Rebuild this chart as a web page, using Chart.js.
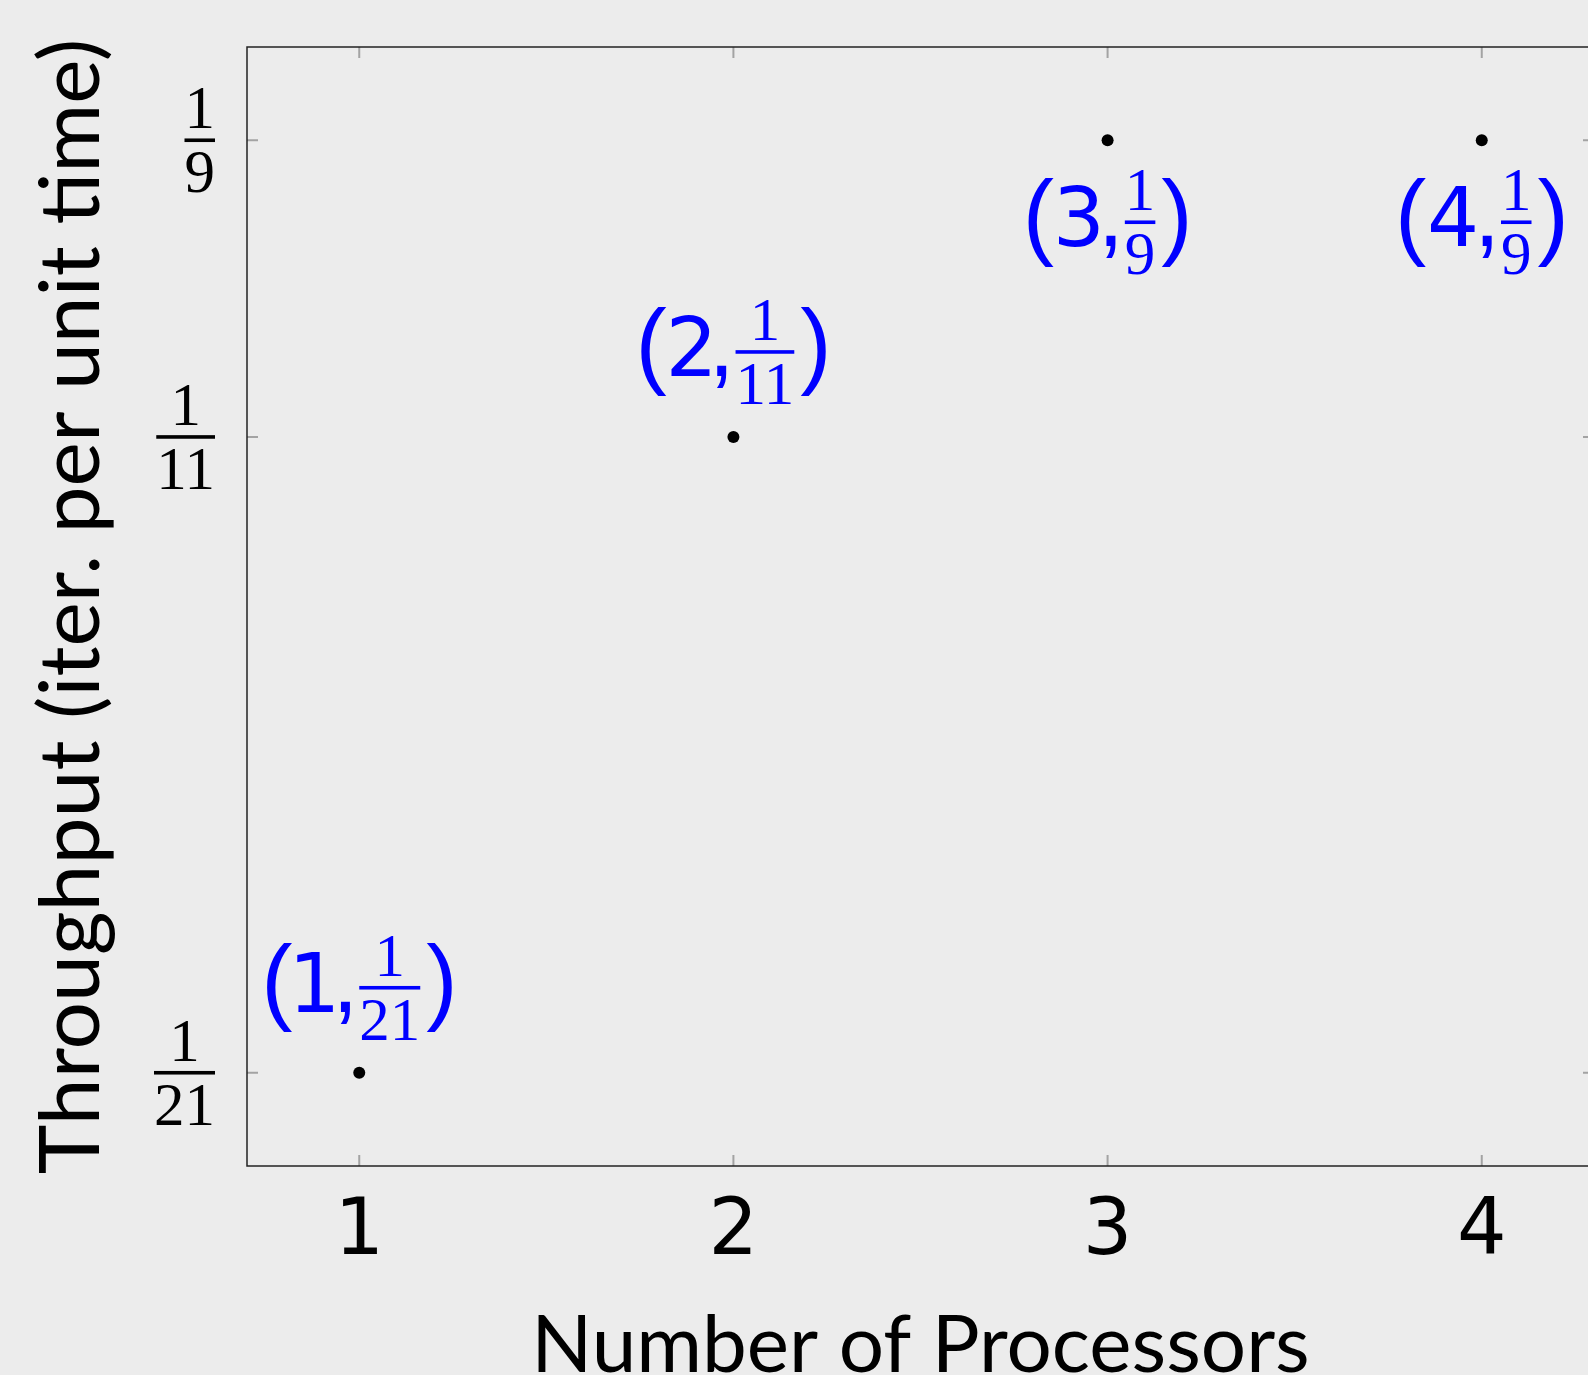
<!DOCTYPE html>
<html>
<head>
<meta charset="utf-8">
<title>Throughput vs number of processors</title>
<script src="https://cdn.jsdelivr.net/npm/chart.js@4.4.0/dist/chart.umd.min.js"></script>
<style>
  html, body { margin: 0; padding: 0; background: #ececec; overflow: hidden; }
  #wrap { width: 1600px; height: 1375px; }
</style>
</head>
<body>
<div id="wrap"><canvas id="chart" width="1600" height="1375"></canvas></div>
<script>
// data: throughput is 1/den iterations per unit time
const processors = [1, 2, 3, 4];
const throughputNum = [1, 1, 1, 1];
const throughputDen = [21, 11, 9, 9];

// axis ticks
const xTicks = [1, 2, 3, 4];
const yTickNum = [1, 1, 1];
const yTickDen = [21, 11, 9];

const xTitle = 'Number of Processors';
const yTitle = 'Throughput (iter. per unit time)';

const throughput = throughputNum.map((n, i) => n / throughputDen[i]);
const yTicks = yTickNum.map((n, i) => n / yTickDen[i]);

// pgfplots style: enlarge limits by 10% of the data range
const xPad = 0.1 * (Math.max(...processors) - Math.min(...processors));
const yPad = 0.1 * (Math.max(...yTicks) - Math.min(...yTicks));

const SANS = '"DejaVu Sans", sans-serif';
const THIN = '"Liberation Sans", sans-serif';
const SERIF = '"Liberation Serif", serif';
const TITLE_FONT = 'Lato, sans-serif';
const BLUE = '#0000ff';

// stacked fraction, bar starts at `left` and is centred on barY
function fracWidth(ctx, num, den) {
    ctx.font = '61px ' + SERIF;
    return Math.max(ctx.measureText(String(num)).width, ctx.measureText(String(den)).width);
}

function drawFrac(ctx, num, den, left, barY, color) {
    const w = fracWidth(ctx, num, den);
    ctx.fillStyle = color;
    ctx.fillRect(left, barY - 1.8, w, 3.6);
    ctx.textAlign = 'center';
    ctx.textBaseline = 'alphabetic';
    ctx.fillText(String(num), left + w / 2, barY - 12);
    ctx.fillText(String(den), left + w / 2, barY + 52);
}

// draws text so that its ink starts at x, returns where the ink ends
function inkText(ctx, text, x, baseline) {
    const m = ctx.measureText(text);
    ctx.fillText(text, x + m.actualBoundingBoxLeft, baseline);
    return x + m.actualBoundingBoxLeft + m.actualBoundingBoxRight;
}

function inkWidth(ctx, text) {
    const m = ctx.measureText(text);
    return m.actualBoundingBoxLeft + m.actualBoundingBoxRight;
}

// "(x, num/den)" label centred on cx, fraction bar at barY
function drawPointLabel(ctx, cx, barY, xVal, num, den) {
    const g = [5, 7, 9, 6];
    ctx.textAlign = 'left';
    ctx.textBaseline = 'alphabetic';

    ctx.font = '94px ' + THIN;
    const lp = ctx.measureText('(');
    const parenBase = barY + (lp.actualBoundingBoxAscent - lp.actualBoundingBoxDescent) / 2;
    const lpW = inkWidth(ctx, '(');
    const rpW = inkWidth(ctx, ')');
    const commaW = inkWidth(ctx, ',');
    ctx.font = '82px ' + SANS;
    const digW = inkWidth(ctx, String(xVal));
    const fw = fracWidth(ctx, num, den);

    const total = lpW + digW + commaW + fw + rpW + g[0] + g[1] + g[2] + g[3];
    let x = cx - total / 2;

    ctx.fillStyle = BLUE;
    ctx.font = '94px ' + THIN;
    x = inkText(ctx, '(', x, parenBase) + g[0];
    ctx.font = '82px ' + SANS;
    x = inkText(ctx, String(xVal), x, barY + 24) + g[1];
    ctx.font = '94px ' + THIN;
    x = inkText(ctx, ',', x, barY + 24) + g[2];
    drawFrac(ctx, num, den, x, barY, BLUE);
    x += fw + g[3];
    ctx.textAlign = 'left';
    ctx.font = '94px ' + THIN;
    inkText(ctx, ')', x, parenBase);
}

const axesPlugin = {
    id: 'axesPlugin',
    afterDatasetsDraw(chart) {
        const ctx = chart.ctx;
        const area = chart.chartArea;
        const xs = chart.scales.x;
        const ys = chart.scales.y;
        ctx.save();

        // tick marks, inside, on all four sides
        ctx.strokeStyle = '#a3a3a3';
        ctx.lineWidth = 2;
        ctx.beginPath();
        xTicks.forEach(v => {
            const px = xs.getPixelForValue(v);
            ctx.moveTo(px, area.bottom); ctx.lineTo(px, area.bottom - 11);
            ctx.moveTo(px, area.top); ctx.lineTo(px, area.top + 11);
        });
        yTicks.forEach(v => {
            const py = ys.getPixelForValue(v);
            ctx.moveTo(area.left, py); ctx.lineTo(area.left + 11, py);
            ctx.moveTo(area.right, py); ctx.lineTo(area.right - 11, py);
        });
        ctx.stroke();

        // frame
        ctx.strokeStyle = '#222';
        ctx.lineWidth = 1.5;
        ctx.strokeRect(area.left, area.top, area.right - area.left, area.bottom - area.top);

        // x tick labels
        ctx.fillStyle = '#000';
        ctx.font = '78px ' + SANS;
        ctx.textAlign = 'center';
        ctx.textBaseline = 'alphabetic';
        xTicks.forEach(v => {
            ctx.fillText(String(v), xs.getPixelForValue(v), 1254);
        });

        // y tick labels as fractions, right aligned
        yTicks.forEach((v, i) => {
            const w = fracWidth(ctx, yTickNum[i], yTickDen[i]);
            drawFrac(ctx, yTickNum[i], yTickDen[i], area.left - 32 - w, ys.getPixelForValue(v), '#000');
        });

        // point labels: above, except at the top of the range where they go below
        const yMax = Math.max(...throughput);
        processors.forEach((p, i) => {
            const px = xs.getPixelForValue(p);
            const py = ys.getPixelForValue(throughput[i]);
            const below = throughput[i] === yMax;
            drawPointLabel(ctx, px, below ? py + 82 : py - 85, p, throughputNum[i], throughputDen[i]);
        });

        // axis titles
        ctx.fillStyle = '#000';
        ctx.textAlign = 'center';
        ctx.textBaseline = 'alphabetic';
        ctx.font = '80px ' + TITLE_FONT;
        ctx.fillText(xTitle, (area.left + area.right) / 2, 1372);

        ctx.font = '84px ' + TITLE_FONT;
        ctx.save();
        ctx.translate(99, (area.top + area.bottom) / 2);
        ctx.rotate(-Math.PI / 2);
        ctx.fillText(yTitle, 0, 0);
        ctx.restore();

        ctx.restore();
    }
};

const ctx = document.getElementById('chart').getContext('2d');
new Chart(ctx, {
    type: 'scatter',
    data: {
        datasets: [{
            data: processors.map((p, i) => ({ x: p, y: throughput[i] })),
            pointRadius: 6,
            pointHoverRadius: 6,
            pointBackgroundColor: '#000',
            pointBorderWidth: 0
        }]
    },
    options: {
        responsive: false,
        animation: false,
        devicePixelRatio: 1,
        layout: { padding: { top: 47, right: 6, left: 0, bottom: 0 } },
        plugins: {
            legend: { display: false },
            tooltip: { enabled: false }
        },
        scales: {
            x: {
                type: 'linear',
                min: Math.min(...processors) - xPad,
                max: Math.max(...processors) + xPad,
                grid: { display: false, drawTicks: false },
                border: { display: false },
                ticks: { display: false },
                afterFit: s => { s.height = 209; }
            },
            y: {
                type: 'linear',
                min: Math.min(...yTicks) - yPad,
                max: Math.max(...yTicks) + yPad,
                grid: { display: false, drawTicks: false },
                border: { display: false },
                ticks: { display: false },
                afterFit: s => { s.width = 247; }
            }
        }
    },
    plugins: [axesPlugin]
});
</script>
</body>
</html>
